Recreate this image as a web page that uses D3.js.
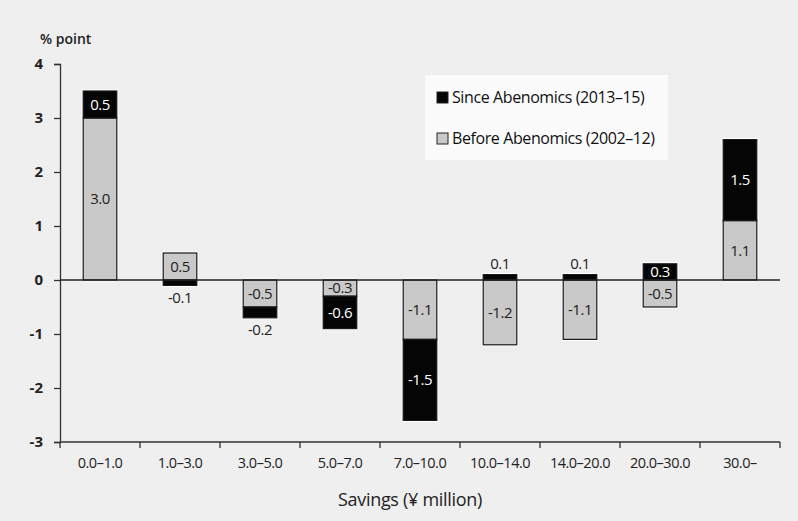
<!DOCTYPE html>
<html><head><meta charset="utf-8">
<script src="https://cdn.jsdelivr.net/npm/d3@7"></script>
<style>
html,body{margin:0;padding:0;background:#efefef;}
svg{display:block;font-family:"Open Sans","Noto Sans",sans-serif;}
</style></head>
<body>
<svg id="chart" width="798" height="521"></svg>
<script>
const categories = ["0.0–1.0","1.0–3.0","3.0–5.0","5.0–7.0","7.0–10.0","10.0–14.0","14.0–20.0","20.0–30.0","30.0–"];
const beforeValues = [3.0, 0.5, -0.5, -0.3, -1.1, -1.2, -1.1, -0.5, 1.1];
const sinceValues  = [0.5, -0.1, -0.2, -0.6, -1.5, 0.1, 0.1, 0.3, 1.5];
const seriesNames = ["Before Abenomics (2002–12)", "Since Abenomics (2013–15)"];
const yTicks = [-3,-2,-1,0,1,2,3,4];
const yLabel = "% point";
const xLabel = "Savings (¥ million)";

(function(){
const svg = d3.select("#chart");
const W = 798, H = 521;
svg.append("rect").attr("width", W).attr("height", H).attr("fill", "#efefef");

const mLeft = 60, mRight = 780, mTop = 64, mBottom = 442;
const y = d3.scaleLinear().domain([-3, 4]).range([mBottom, mTop]);
const x = d3.scaleBand().domain(categories).range([mLeft, mRight]).paddingInner(0.58).paddingOuter(0.29);
const xEdge = d3.scaleBand().domain(categories).range([mLeft, mRight]).padding(0);

const colors = {before: "#c9c9c9", since: "#050505"};
const fmt1 = v => d3.format(".1f")(v).replace("\u2212", "-");
const fmt0 = v => d3.format("d")(v).replace("\u2212", "-");
const FONT = "'Open Sans','Noto Sans',sans-serif";

const table = categories.map((c, i) => ({cat: c, before: beforeValues[i], since: sinceValues[i]}));
const stack = d3.stack().keys(["before", "since"]).offset(d3.stackOffsetDiverging);
const stacked = stack(table);

// y axis
const yAxis = svg.append("g").attr("transform", `translate(${mLeft},0)`)
  .call(d3.axisLeft(y).tickValues(yTicks).tickFormat(fmt0).tickSize(6).tickPadding(11));
yAxis.select(".domain").attr("stroke", "#333").attr("stroke-width", 1.3);
yAxis.selectAll(".tick line").attr("stroke", "#333").attr("stroke-width", 1.3);
yAxis.selectAll(".tick text").attr("font-size", 15).attr("font-weight", "bold").attr("fill", "#222")
  .attr("font-family", FONT);

// x axis
const xAxis = svg.append("g").attr("transform", `translate(0,${mBottom})`)
  .call(d3.axisBottom(xEdge).tickSize(0).tickPadding(16));
xAxis.select(".domain").remove();
xAxis.selectAll(".tick text").attr("font-size", 14.5).attr("fill", "#222")
  .attr("font-family", FONT).attr("letter-spacing", "-0.5");
svg.append("line").attr("x1", mLeft).attr("x2", mRight).attr("y1", mBottom).attr("y2", mBottom)
  .attr("stroke", "#333").attr("stroke-width", 1.3);
const edges = categories.map(c => xEdge(c)).concat([xEdge(categories[categories.length-1]) + xEdge.bandwidth()]);
svg.selectAll(".edgeTick").data(edges).enter().append("line")
  .attr("x1", d => d).attr("x2", d => d).attr("y1", mBottom).attr("y2", mBottom + 6)
  .attr("stroke", "#333").attr("stroke-width", 1.3);

// bars: halo first
const gBars = svg.append("g");
stacked.forEach(s => {
  gBars.selectAll(null).data(s).enter().append("rect")
    .attr("x", d => x(d.data.cat) - 1.5)
    .attr("y", d => y(Math.max(d[0], d[1])) - 1.5)
    .attr("width", x.bandwidth() + 3)
    .attr("height", d => Math.abs(y(d[0]) - y(d[1])) + 3)
    .attr("fill", "#ffffff");
});
stacked.forEach(s => {
  gBars.selectAll(null).data(s).enter().append("rect")
    .attr("x", d => x(d.data.cat))
    .attr("y", d => y(Math.max(d[0], d[1])))
    .attr("width", x.bandwidth())
    .attr("height", d => Math.abs(y(d[0]) - y(d[1])))
    .attr("fill", colors[s.key])
    .attr("stroke", "#1a1a1a").attr("stroke-width", 1.2);
});

// zero line
svg.append("line").attr("x1", mLeft).attr("x2", mRight).attr("y1", y(0)).attr("y2", y(0))
  .attr("stroke", "#222").attr("stroke-width", 1.4);

// value labels
const gLab = svg.append("g").attr("font-size", 15).attr("text-anchor", "middle").attr("letter-spacing", "-0.5");
stacked.forEach(s => {
  s.forEach(d => {
    const v = d.data[s.key];
    const y0 = y(d[0]), y1 = y(d[1]);
    const h = Math.abs(y0 - y1);
    const cx = x(d.data.cat) + x.bandwidth() / 2;
    let ty, fill;
    if (h >= 14) {
      ty = (y0 + y1) / 2;
      fill = s.key === "since" ? "#ffffff" : "#222";
    } else if (v > 0) {
      ty = Math.min(y0, y1) - 11;
      fill = "#222";
    } else {
      ty = Math.max(y0, y1) + 12;
      fill = "#222";
    }
    gLab.append("text").attr("x", cx).attr("y", ty).attr("dy", "0.35em")
      .attr("fill", fill).text(fmt1(v));
  });
});

svg.append("text").attr("x", 40).attr("y", 44).attr("font-size", 14).attr("font-weight", 600)
  .attr("fill", "#222").text(yLabel);
svg.append("text").attr("x", (mLeft + mRight) / 2 - 10).attr("y", 500).attr("dy", "0.35em").attr("text-anchor", "middle")
  .attr("font-size", 18).attr("fill", "#222").attr("letter-spacing", "-0.3").text(xLabel);

// legend
const lg = svg.append("g");
lg.append("rect").attr("x", 425).attr("y", 75).attr("width", 243).attr("height", 85).attr("fill", "#fbfbfb");
const legendItems = [
  {name: seriesNames[1], color: colors.since, y: 97},
  {name: seriesNames[0], color: colors.before, y: 138}
];
legendItems.forEach(it => {
  lg.append("rect").attr("x", 437).attr("y", it.y - 5).attr("width", 11).attr("height", 11)
    .attr("fill", it.color).attr("stroke", "#222").attr("stroke-width", 1);
  lg.append("text").attr("x", 452).attr("y", it.y).attr("dy", "0.35em").attr("font-size", 16)
    .attr("fill", "#111").attr("letter-spacing", "-0.4").text(it.name);
});
})();
</script>
</body></html>
